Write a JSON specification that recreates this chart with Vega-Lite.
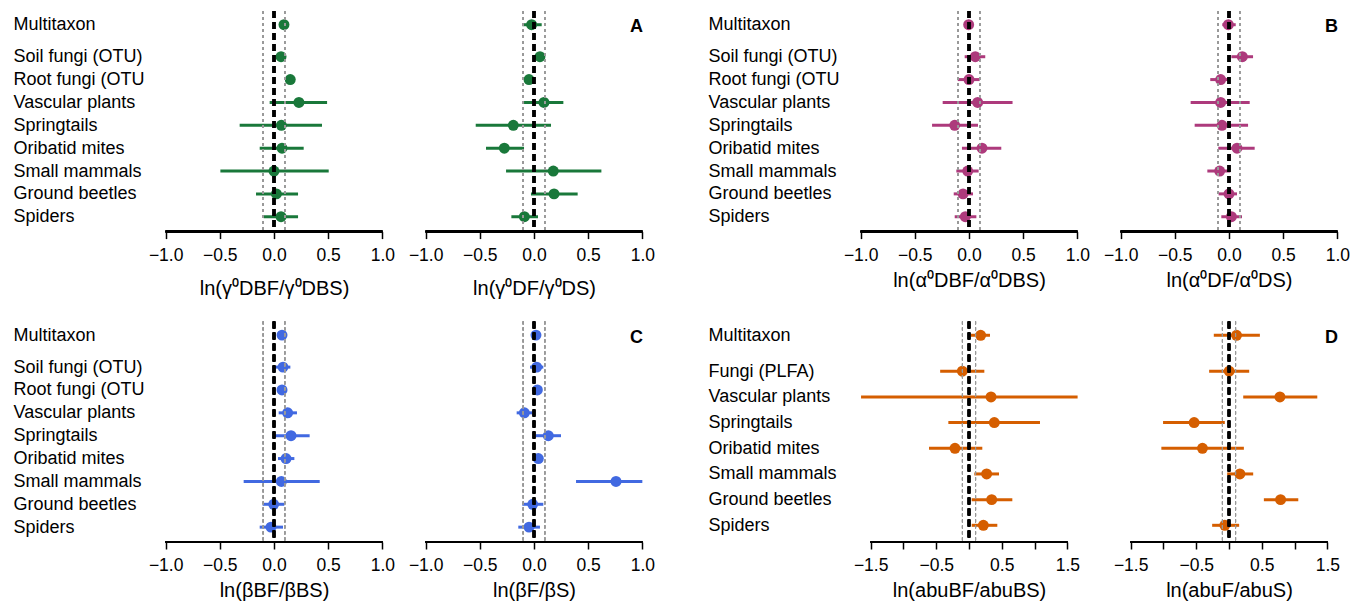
{
  "$schema": "https://vega.github.io/schema/vega-lite/v6.json",
  "padding": {"left": 13, "top": 9, "right": 5, "bottom": 0},
  "datasets": {
    "A": [
      {"taxon": "Multitaxon", "row": 9.4, "cmp": "BF", "est": 0.092, "lo": 0.075, "hi": 0.11},
      {"taxon": "Soil fungi (OTU)", "row": 8, "cmp": "BF", "est": 0.065, "lo": 0.05, "hi": 0.08},
      {"taxon": "Root fungi (OTU", "row": 7, "cmp": "BF", "est": 0.15, "lo": 0.135, "hi": 0.165},
      {"taxon": "Vascular plants", "row": 6, "cmp": "BF", "est": 0.23, "lo": -0.04, "hi": 0.49},
      {"taxon": "Springtails", "row": 5, "cmp": "BF", "est": 0.068, "lo": -0.317, "hi": 0.443},
      {"taxon": "Oribatid mites", "row": 4, "cmp": "BF", "est": 0.074, "lo": -0.132, "hi": 0.274},
      {"taxon": "Small mammals", "row": 3, "cmp": "BF", "est": 0.0, "lo": -0.495, "hi": 0.505},
      {"taxon": "Ground beetles", "row": 2, "cmp": "BF", "est": 0.022, "lo": -0.166, "hi": 0.222},
      {"taxon": "Spiders", "row": 1, "cmp": "BF", "est": 0.065, "lo": -0.095, "hi": 0.222},
      {"taxon": "Multitaxon", "row": 9.4, "cmp": "F", "est": -0.022, "lo": -0.108, "hi": 0.071},
      {"taxon": "Soil fungi (OTU)", "row": 8, "cmp": "F", "est": 0.055, "lo": 0.04, "hi": 0.07},
      {"taxon": "Root fungi (OTU", "row": 7, "cmp": "F", "est": -0.046, "lo": -0.06, "hi": -0.03},
      {"taxon": "Vascular plants", "row": 6, "cmp": "F", "est": 0.092, "lo": -0.092, "hi": 0.271},
      {"taxon": "Springtails", "row": 5, "cmp": "F", "est": -0.191, "lo": -0.538, "hi": 0.157},
      {"taxon": "Oribatid mites", "row": 4, "cmp": "F", "est": -0.274, "lo": -0.443, "hi": -0.092},
      {"taxon": "Small mammals", "row": 3, "cmp": "F", "est": 0.178, "lo": -0.258, "hi": 0.622},
      {"taxon": "Ground beetles", "row": 2, "cmp": "F", "est": 0.185, "lo": -0.028, "hi": 0.403},
      {"taxon": "Spiders", "row": 1, "cmp": "F", "est": -0.089, "lo": -0.209, "hi": 0.037}
    ],
    "B": [
      {"taxon": "Multitaxon", "row": 9.4, "cmp": "BF", "est": -0.003, "lo": -0.015, "hi": 0.01},
      {"taxon": "Soil fungi (OTU)", "row": 8, "cmp": "BF", "est": 0.058, "lo": -0.04, "hi": 0.15},
      {"taxon": "Root fungi (OTU", "row": 7, "cmp": "BF", "est": 0.0, "lo": -0.104, "hi": 0.098},
      {"taxon": "Vascular plants", "row": 6, "cmp": "BF", "est": 0.08, "lo": -0.243, "hi": 0.402},
      {"taxon": "Springtails", "row": 5, "cmp": "BF", "est": -0.132, "lo": -0.341, "hi": 0.083},
      {"taxon": "Oribatid mites", "row": 4, "cmp": "BF", "est": 0.12, "lo": -0.065, "hi": 0.298},
      {"taxon": "Small mammals", "row": 3, "cmp": "BF", "est": -0.012, "lo": -0.117, "hi": 0.089},
      {"taxon": "Ground beetles", "row": 2, "cmp": "BF", "est": -0.055, "lo": -0.141, "hi": 0.037},
      {"taxon": "Spiders", "row": 1, "cmp": "BF", "est": -0.034, "lo": -0.132, "hi": 0.068},
      {"taxon": "Multitaxon", "row": 9.4, "cmp": "F", "est": -0.006, "lo": -0.062, "hi": 0.062},
      {"taxon": "Soil fungi (OTU)", "row": 8, "cmp": "F", "est": 0.123, "lo": 0.022, "hi": 0.222},
      {"taxon": "Root fungi (OTU", "row": 7, "cmp": "F", "est": -0.077, "lo": -0.173, "hi": 0.006},
      {"taxon": "Vascular plants", "row": 6, "cmp": "F", "est": -0.077, "lo": -0.354, "hi": 0.191},
      {"taxon": "Springtails", "row": 5, "cmp": "F", "est": -0.065, "lo": -0.317, "hi": 0.176},
      {"taxon": "Oribatid mites", "row": 4, "cmp": "F", "est": 0.074, "lo": -0.099, "hi": 0.237},
      {"taxon": "Small mammals", "row": 3, "cmp": "F", "est": -0.086, "lo": -0.2, "hi": 0.012},
      {"taxon": "Ground beetles", "row": 2, "cmp": "F", "est": 0.0, "lo": -0.096, "hi": 0.074},
      {"taxon": "Spiders", "row": 1, "cmp": "F", "est": 0.022, "lo": -0.071, "hi": 0.12}
    ],
    "C": [
      {"taxon": "Multitaxon", "row": 9.4, "cmp": "BF", "est": 0.074, "lo": 0.06, "hi": 0.09},
      {"taxon": "Soil fungi (OTU)", "row": 8, "cmp": "BF", "est": 0.083, "lo": 0.012, "hi": 0.151},
      {"taxon": "Root fungi (OTU", "row": 7, "cmp": "BF", "est": 0.074, "lo": 0.06, "hi": 0.09},
      {"taxon": "Vascular plants", "row": 6, "cmp": "BF", "est": 0.126, "lo": 0.043, "hi": 0.212},
      {"taxon": "Springtails", "row": 5, "cmp": "BF", "est": 0.157, "lo": -0.009, "hi": 0.329},
      {"taxon": "Oribatid mites", "row": 4, "cmp": "BF", "est": 0.111, "lo": 0.037, "hi": 0.188},
      {"taxon": "Small mammals", "row": 3, "cmp": "BF", "est": 0.068, "lo": -0.28, "hi": 0.422},
      {"taxon": "Ground beetles", "row": 2, "cmp": "BF", "est": -0.003, "lo": -0.105, "hi": 0.095},
      {"taxon": "Spiders", "row": 1, "cmp": "BF", "est": -0.028, "lo": -0.132, "hi": 0.083},
      {"taxon": "Multitaxon", "row": 9.4, "cmp": "F", "est": 0.018, "lo": 0.005, "hi": 0.03},
      {"taxon": "Soil fungi (OTU)", "row": 8, "cmp": "F", "est": 0.025, "lo": -0.037, "hi": 0.086},
      {"taxon": "Root fungi (OTU", "row": 7, "cmp": "F", "est": 0.031, "lo": 0.015, "hi": 0.045},
      {"taxon": "Vascular plants", "row": 6, "cmp": "F", "est": -0.089, "lo": -0.16, "hi": -0.015},
      {"taxon": "Springtails", "row": 5, "cmp": "F", "est": 0.132, "lo": 0.015, "hi": 0.249},
      {"taxon": "Oribatid mites", "row": 4, "cmp": "F", "est": 0.04, "lo": 0.02, "hi": 0.06},
      {"taxon": "Small mammals", "row": 3, "cmp": "F", "est": 0.757, "lo": 0.388, "hi": 1.0},
      {"taxon": "Ground beetles", "row": 2, "cmp": "F", "est": -0.012, "lo": -0.108, "hi": 0.086},
      {"taxon": "Spiders", "row": 1, "cmp": "F", "est": -0.046, "lo": -0.145, "hi": 0.055}
    ],
    "D": [
      {"taxon": "Multitaxon", "row": 8.4, "cmp": "BF", "est": 0.178, "lo": 0.025, "hi": 0.32},
      {"taxon": "Fungi (PLFA)", "row": 7, "cmp": "BF", "est": -0.102, "lo": -0.44, "hi": 0.234},
      {"taxon": "Vascular plants", "row": 6, "cmp": "BF", "est": 0.336, "lo": -1.647, "hi": 1.657},
      {"taxon": "Springtails", "row": 5, "cmp": "BF", "est": 0.386, "lo": -0.315, "hi": 1.083},
      {"taxon": "Oribatid mites", "row": 4, "cmp": "BF", "est": -0.214, "lo": -0.61, "hi": 0.203},
      {"taxon": "Small mammals", "row": 3, "cmp": "BF", "est": 0.269, "lo": 0.081, "hi": 0.458},
      {"taxon": "Ground beetles", "row": 2, "cmp": "BF", "est": 0.346, "lo": 0.041, "hi": 0.661},
      {"taxon": "Spiders", "row": 1, "cmp": "BF", "est": 0.219, "lo": 0.041, "hi": 0.432},
      {"taxon": "Multitaxon", "row": 8.4, "cmp": "F", "est": 0.115, "lo": -0.232, "hi": 0.471},
      {"taxon": "Fungi (PLFA)", "row": 7, "cmp": "F", "est": 0.003, "lo": -0.303, "hi": 0.308},
      {"taxon": "Vascular plants", "row": 6, "cmp": "F", "est": 0.777, "lo": 0.217, "hi": 1.347},
      {"taxon": "Springtails", "row": 5, "cmp": "F", "est": -0.532, "lo": -1.006, "hi": -0.064},
      {"taxon": "Oribatid mites", "row": 4, "cmp": "F", "est": -0.405, "lo": -1.032, "hi": 0.227},
      {"taxon": "Small mammals", "row": 3, "cmp": "F", "est": 0.166, "lo": -0.028, "hi": 0.369},
      {"taxon": "Ground beetles", "row": 2, "cmp": "F", "est": 0.787, "lo": 0.532, "hi": 1.057},
      {"taxon": "Spiders", "row": 1, "cmp": "F", "est": -0.064, "lo": -0.257, "hi": 0.155}
    ]
  },
  "bounds": "flush",
  "columns": 5,
  "spacing": {"row": 89.4, "column": 26},
  "concat": [
    {
      "width": 234, "height": 220.6,
      "data": {"name": "A"},
      "transform": [{"filter": "datum.cmp == 'BF'"}],
      "layer": [
        {"mark": {"type": "rule", "color": "#19783a", "strokeWidth": 3},
         "encoding": {
           "x": {"field": "lo", "type": "quantitative", "scale": {"domain": [-1.08, 1.08], "nice": false, "zero": false},
                 "axis": {"values": [-1, -0.5, 0, 0.5, 1], "format": ".1f", "title": "ln(γ⁰DBF/γ⁰DBS)", "titlePadding": 15}},
           "x2": {"field": "hi"},
           "y": {"field": "row", "type": "quantitative", "scale": {"domain": [0.35, 10], "nice": false, "zero": false},
                 "axis": {"values": [9.4, 8, 7, 6, 5, 4, 3, 2, 1], "labelExpr": "datum.value == 9.4 ? 'Multitaxon' : datum.value == 8 ? 'Soil fungi (OTU)' : datum.value == 7 ? 'Root fungi (OTU' : datum.value == 6 ? 'Vascular plants' : datum.value == 5 ? 'Springtails' : datum.value == 4 ? 'Oribatid mites' : datum.value == 3 ? 'Small mammals' : datum.value == 2 ? 'Ground beetles' : 'Spiders'"}}}},
        {"mark": {"type": "circle", "color": "#19783a", "size": 120, "opacity": 1},
         "encoding": {"x": {"field": "est", "type": "quantitative"}, "y": {"field": "row", "type": "quantitative"}}},
        {"mark": {"type": "rule", "color": "#9a9a9a", "strokeWidth": 1, "strokeDash": [3, 3]}, "encoding": {"x": {"datum": -0.1}}},
        {"mark": {"type": "rule", "color": "#9a9a9a", "strokeWidth": 1, "strokeDash": [3, 3]}, "encoding": {"x": {"datum": 0.1}}},
        {"mark": {"type": "rule", "color": "black", "strokeWidth": 2.5, "strokeDash": [7, 4]}, "encoding": {"x": {"datum": 0}}},
        {"mark": {"type": "rule", "color": "black", "strokeWidth": 2}, "encoding": {"x": {"datum": -1}, "x2": {"datum": 1}, "y": {"datum": 0.35}}}
      ]
    },
    {
      "width": 234, "height": 220.6,
      "title": {"text": "A", "anchor": "end", "frame": "group", "fontSize": 18, "fontWeight": "bold", "color": "black", "font": "Liberation Sans", "offset": -44.4, "dx": -8, "baseline": "bottom"},
      "data": {"name": "A"},
      "transform": [{"filter": "datum.cmp == 'F'"}],
      "layer": [
        {"mark": {"type": "rule", "color": "#19783a", "strokeWidth": 3},
         "encoding": {
           "x": {"field": "lo", "type": "quantitative", "scale": {"domain": [-1.08, 1.08], "nice": false, "zero": false},
                 "axis": {"values": [-1, -0.5, 0, 0.5, 1], "format": ".1f", "title": "ln(γ⁰DF/γ⁰DS)", "titlePadding": 15}},
           "x2": {"field": "hi"},
           "y": {"field": "row", "type": "quantitative", "scale": {"domain": [0.35, 10], "nice": false, "zero": false}, "axis": null}}},
        {"mark": {"type": "circle", "color": "#19783a", "size": 120, "opacity": 1},
         "encoding": {"x": {"field": "est", "type": "quantitative"}, "y": {"field": "row", "type": "quantitative"}}},
        {"mark": {"type": "rule", "color": "#9a9a9a", "strokeWidth": 1, "strokeDash": [3, 3]}, "encoding": {"x": {"datum": -0.1}}},
        {"mark": {"type": "rule", "color": "#9a9a9a", "strokeWidth": 1, "strokeDash": [3, 3]}, "encoding": {"x": {"datum": 0.1}}},
        {"mark": {"type": "rule", "color": "black", "strokeWidth": 2.5, "strokeDash": [7, 4]}, "encoding": {"x": {"datum": 0}}},
        {"mark": {"type": "rule", "color": "black", "strokeWidth": 2}, "encoding": {"x": {"datum": -1}, "x2": {"datum": 1}, "y": {"datum": 0.35}}}
      ]
    },
    {"width": 148.8, "height": 220.6, "data": {"values": []}, "mark": {"type": "point", "opacity": 0}},
    {
      "width": 234, "height": 220.6,
      "data": {"name": "B"},
      "transform": [{"filter": "datum.cmp == 'BF'"}],
      "layer": [
        {"mark": {"type": "rule", "color": "#ad3a7c", "strokeWidth": 3},
         "encoding": {
           "x": {"field": "lo", "type": "quantitative", "scale": {"domain": [-1.08, 1.08], "nice": false, "zero": false},
                 "axis": {"values": [-1, -0.5, 0, 0.5, 1], "format": ".1f", "title": "ln(α⁰DBF/α⁰DBS)", "titlePadding": 6.5}},
           "x2": {"field": "hi"},
           "y": {"field": "row", "type": "quantitative", "scale": {"domain": [0.35, 10], "nice": false, "zero": false},
                 "axis": {"values": [9.4, 8, 7, 6, 5, 4, 3, 2, 1], "labelExpr": "datum.value == 9.4 ? 'Multitaxon' : datum.value == 8 ? 'Soil fungi (OTU)' : datum.value == 7 ? 'Root fungi (OTU' : datum.value == 6 ? 'Vascular plants' : datum.value == 5 ? 'Springtails' : datum.value == 4 ? 'Oribatid mites' : datum.value == 3 ? 'Small mammals' : datum.value == 2 ? 'Ground beetles' : 'Spiders'"}}}},
        {"mark": {"type": "circle", "color": "#ad3a7c", "size": 120, "opacity": 1},
         "encoding": {"x": {"field": "est", "type": "quantitative"}, "y": {"field": "row", "type": "quantitative"}}},
        {"mark": {"type": "rule", "color": "#9a9a9a", "strokeWidth": 1, "strokeDash": [3, 3]}, "encoding": {"x": {"datum": -0.1}}},
        {"mark": {"type": "rule", "color": "#9a9a9a", "strokeWidth": 1, "strokeDash": [3, 3]}, "encoding": {"x": {"datum": 0.1}}},
        {"mark": {"type": "rule", "color": "black", "strokeWidth": 2.5, "strokeDash": [7, 4]}, "encoding": {"x": {"datum": 0}}},
        {"mark": {"type": "rule", "color": "black", "strokeWidth": 2}, "encoding": {"x": {"datum": -1}, "x2": {"datum": 1}, "y": {"datum": 0.35}}}
      ]
    },
    {
      "width": 234, "height": 220.6,
      "title": {"text": "B", "anchor": "end", "frame": "group", "fontSize": 18, "fontWeight": "bold", "color": "black", "font": "Liberation Sans", "offset": -44.4, "dx": -8, "baseline": "bottom"},
      "data": {"name": "B"},
      "transform": [{"filter": "datum.cmp == 'F'"}],
      "layer": [
        {"mark": {"type": "rule", "color": "#ad3a7c", "strokeWidth": 3},
         "encoding": {
           "x": {"field": "lo", "type": "quantitative", "scale": {"domain": [-1.08, 1.08], "nice": false, "zero": false},
                 "axis": {"values": [-1, -0.5, 0, 0.5, 1], "format": ".1f", "title": "ln(α⁰DF/α⁰DS)", "titlePadding": 6.5}},
           "x2": {"field": "hi"},
           "y": {"field": "row", "type": "quantitative", "scale": {"domain": [0.35, 10], "nice": false, "zero": false}, "axis": null}}},
        {"mark": {"type": "circle", "color": "#ad3a7c", "size": 120, "opacity": 1},
         "encoding": {"x": {"field": "est", "type": "quantitative"}, "y": {"field": "row", "type": "quantitative"}}},
        {"mark": {"type": "rule", "color": "#9a9a9a", "strokeWidth": 1, "strokeDash": [3, 3]}, "encoding": {"x": {"datum": -0.1}}},
        {"mark": {"type": "rule", "color": "#9a9a9a", "strokeWidth": 1, "strokeDash": [3, 3]}, "encoding": {"x": {"datum": 0.1}}},
        {"mark": {"type": "rule", "color": "black", "strokeWidth": 2.5, "strokeDash": [7, 4]}, "encoding": {"x": {"datum": 0}}},
        {"mark": {"type": "rule", "color": "black", "strokeWidth": 2}, "encoding": {"x": {"datum": -1}, "x2": {"datum": 1}, "y": {"datum": 0.35}}}
      ]
    },
    {
      "width": 234, "height": 220.6,
      "data": {"name": "C"},
      "transform": [{"filter": "datum.cmp == 'BF'"}],
      "layer": [
        {"mark": {"type": "rule", "color": "#4169e1", "strokeWidth": 3},
         "encoding": {
           "x": {"field": "lo", "type": "quantitative", "scale": {"domain": [-1.08, 1.08], "nice": false, "zero": false},
                 "axis": {"values": [-1, -0.5, 0, 0.5, 1], "format": ".1f", "title": "ln(βBF/βBS)", "titlePadding": 6.5}},
           "x2": {"field": "hi"},
           "y": {"field": "row", "type": "quantitative", "scale": {"domain": [0.35, 10], "nice": false, "zero": false},
                 "axis": {"values": [9.4, 8, 7, 6, 5, 4, 3, 2, 1], "labelExpr": "datum.value == 9.4 ? 'Multitaxon' : datum.value == 8 ? 'Soil fungi (OTU)' : datum.value == 7 ? 'Root fungi (OTU' : datum.value == 6 ? 'Vascular plants' : datum.value == 5 ? 'Springtails' : datum.value == 4 ? 'Oribatid mites' : datum.value == 3 ? 'Small mammals' : datum.value == 2 ? 'Ground beetles' : 'Spiders'"}}}},
        {"mark": {"type": "circle", "color": "#4169e1", "size": 120, "opacity": 1},
         "encoding": {"x": {"field": "est", "type": "quantitative"}, "y": {"field": "row", "type": "quantitative"}}},
        {"mark": {"type": "rule", "color": "#9a9a9a", "strokeWidth": 1, "strokeDash": [3, 3]}, "encoding": {"x": {"datum": -0.1}}},
        {"mark": {"type": "rule", "color": "#9a9a9a", "strokeWidth": 1, "strokeDash": [3, 3]}, "encoding": {"x": {"datum": 0.1}}},
        {"mark": {"type": "rule", "color": "black", "strokeWidth": 2.5, "strokeDash": [7, 4]}, "encoding": {"x": {"datum": 0}}},
        {"mark": {"type": "rule", "color": "black", "strokeWidth": 2}, "encoding": {"x": {"datum": -1}, "x2": {"datum": 1}, "y": {"datum": 0.35}}}
      ]
    },
    {
      "width": 234, "height": 220.6,
      "title": {"text": "C", "anchor": "end", "frame": "group", "fontSize": 18, "fontWeight": "bold", "color": "black", "font": "Liberation Sans", "offset": -44.4, "dx": -8, "baseline": "bottom"},
      "data": {"name": "C"},
      "transform": [{"filter": "datum.cmp == 'F'"}],
      "layer": [
        {"mark": {"type": "rule", "color": "#4169e1", "strokeWidth": 3},
         "encoding": {
           "x": {"field": "lo", "type": "quantitative", "scale": {"domain": [-1.08, 1.08], "nice": false, "zero": false},
                 "axis": {"values": [-1, -0.5, 0, 0.5, 1], "format": ".1f", "title": "ln(βF/βS)", "titlePadding": 6.5}},
           "x2": {"field": "hi"},
           "y": {"field": "row", "type": "quantitative", "scale": {"domain": [0.35, 10], "nice": false, "zero": false}, "axis": null}}},
        {"mark": {"type": "circle", "color": "#4169e1", "size": 120, "opacity": 1},
         "encoding": {"x": {"field": "est", "type": "quantitative"}, "y": {"field": "row", "type": "quantitative"}}},
        {"mark": {"type": "rule", "color": "#9a9a9a", "strokeWidth": 1, "strokeDash": [3, 3]}, "encoding": {"x": {"datum": -0.1}}},
        {"mark": {"type": "rule", "color": "#9a9a9a", "strokeWidth": 1, "strokeDash": [3, 3]}, "encoding": {"x": {"datum": 0.1}}},
        {"mark": {"type": "rule", "color": "black", "strokeWidth": 2.5, "strokeDash": [7, 4]}, "encoding": {"x": {"datum": 0}}},
        {"mark": {"type": "rule", "color": "black", "strokeWidth": 2}, "encoding": {"x": {"datum": -1}, "x2": {"datum": 1}, "y": {"datum": 0.35}}}
      ]
    },
    {"width": 148.8, "height": 220.6, "data": {"values": []}, "mark": {"type": "point", "opacity": 0}},
    {
      "width": 234, "height": 220.6,
      "data": {"name": "D"},
      "transform": [{"filter": "datum.cmp == 'BF'"}],
      "layer": [
        {"mark": {"type": "rule", "color": "#d55e00", "strokeWidth": 3},
         "encoding": {
           "x": {"field": "lo", "type": "quantitative", "scale": {"domain": [-1.785, 1.785], "nice": false, "zero": false},
                 "axis": {"values": [-1.5, -1, -0.5, 0, 0.5, 1, 1.5], "format": ".1f", "labelExpr": "abs(datum.value) == 1 || datum.value == 0 ? '' : datum.label", "title": "ln(abuBF/abuBS)", "titlePadding": 6.5}},
           "x2": {"field": "hi"},
           "y": {"field": "row", "type": "quantitative", "scale": {"domain": [0.35, 8.94], "nice": false, "zero": false},
                 "axis": {"values": [8.4, 7, 6, 5, 4, 3, 2, 1], "labelExpr": "datum.value == 8.4 ? 'Multitaxon' : datum.value == 7 ? 'Fungi (PLFA)' : datum.value == 6 ? 'Vascular plants' : datum.value == 5 ? 'Springtails' : datum.value == 4 ? 'Oribatid mites' : datum.value == 3 ? 'Small mammals' : datum.value == 2 ? 'Ground beetles' : 'Spiders'"}}}},
        {"mark": {"type": "circle", "color": "#d55e00", "size": 120, "opacity": 1},
         "encoding": {"x": {"field": "est", "type": "quantitative"}, "y": {"field": "row", "type": "quantitative"}}},
        {"mark": {"type": "rule", "color": "#9a9a9a", "strokeWidth": 1, "strokeDash": [3, 3]}, "encoding": {"x": {"datum": -0.1}}},
        {"mark": {"type": "rule", "color": "#9a9a9a", "strokeWidth": 1, "strokeDash": [3, 3]}, "encoding": {"x": {"datum": 0.1}}},
        {"mark": {"type": "rule", "color": "black", "strokeWidth": 2.5, "strokeDash": [7, 4]}, "encoding": {"x": {"datum": 0}}},
        {"mark": {"type": "rule", "color": "black", "strokeWidth": 2}, "encoding": {"x": {"datum": -1.5}, "x2": {"datum": 1.5}, "y": {"datum": 0.35}}}
      ]
    },
    {
      "width": 234, "height": 220.6,
      "title": {"text": "D", "anchor": "end", "frame": "group", "fontSize": 18, "fontWeight": "bold", "color": "black", "font": "Liberation Sans", "offset": -44.4, "dx": -8, "baseline": "bottom"},
      "data": {"name": "D"},
      "transform": [{"filter": "datum.cmp == 'F'"}],
      "layer": [
        {"mark": {"type": "rule", "color": "#d55e00", "strokeWidth": 3},
         "encoding": {
           "x": {"field": "lo", "type": "quantitative", "scale": {"domain": [-1.785, 1.785], "nice": false, "zero": false},
                 "axis": {"values": [-1.5, -1, -0.5, 0, 0.5, 1, 1.5], "format": ".1f", "labelExpr": "abs(datum.value) == 1 || datum.value == 0 ? '' : datum.label", "title": "ln(abuF/abuS)", "titlePadding": 6.5}},
           "x2": {"field": "hi"},
           "y": {"field": "row", "type": "quantitative", "scale": {"domain": [0.35, 8.94], "nice": false, "zero": false}, "axis": null}}},
        {"mark": {"type": "circle", "color": "#d55e00", "size": 120, "opacity": 1},
         "encoding": {"x": {"field": "est", "type": "quantitative"}, "y": {"field": "row", "type": "quantitative"}}},
        {"mark": {"type": "rule", "color": "#9a9a9a", "strokeWidth": 1, "strokeDash": [3, 3]}, "encoding": {"x": {"datum": -0.1}}},
        {"mark": {"type": "rule", "color": "#9a9a9a", "strokeWidth": 1, "strokeDash": [3, 3]}, "encoding": {"x": {"datum": 0.1}}},
        {"mark": {"type": "rule", "color": "black", "strokeWidth": 2.5, "strokeDash": [7, 4]}, "encoding": {"x": {"datum": 0}}},
        {"mark": {"type": "rule", "color": "black", "strokeWidth": 2}, "encoding": {"x": {"datum": -1.5}, "x2": {"datum": 1.5}, "y": {"datum": 0.35}}}
      ]
    }
  ],
  "config": {
    "font": "Liberation Sans",
    "view": {"stroke": null},
    "axis": {"labelFont": "Liberation Sans", "titleFont": "Liberation Sans", "labelColor": "black", "titleColor": "black", "titleFontWeight": "normal", "grid": false, "labelOverlap": false, "tickCount": 30},
    "axisX": {"domain": false, "tickColor": "black", "tickWidth": 1.5, "tickSize": 7, "labelFontSize": 17.5, "labelPadding": 7.5, "titleFontSize": 20, "labelFlush": false, "labelOverlap": false, "tickCount": 30},
    "axisY": {"labelAlign": "left", "labelBaseline": "middle", "labelPadding": 144, "ticks": false, "tickSize": 0, "domain": false, "title": null, "labelFontSize": 18, "labelLimit": 300, "labelOverlap": false, "labelFlush": false, "labelSeparation": 0, "tickCount": 30}
  }
}
